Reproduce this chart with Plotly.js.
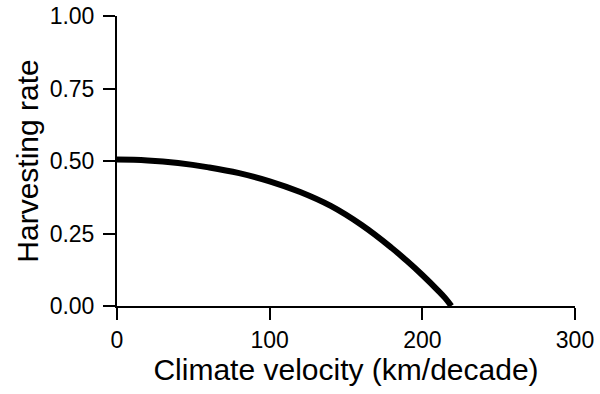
<!DOCTYPE html>
<html>
<head>
<meta charset="utf-8">
<script src="https://cdn.plot.ly/plotly-3.0.1.min.js"></script>
<style>html,body{margin:0;padding:0;background:#fff;}#chart{width:600px;height:394px;}</style>
</head>
<body>
<div id="chart"></div>
<script>
const velocity = [0, 20, 40, 60, 80, 100, 120, 140, 160, 180, 190, 200, 210, 215, 219];
const harvestRate = [0.505, 0.502, 0.493, 0.478, 0.458, 0.430, 0.393, 0.345, 0.280, 0.200, 0.155, 0.107, 0.055, 0.027, 0.0];
const xTicks = [0, 100, 200, 300];
const yTicks = [0, 0.25, 0.5, 0.75, 1.0];
const yTickText = ["0.00", "0.25", "0.50", "0.75", "1.00"];

const trace = {
  x: velocity,
  y: harvestRate,
  mode: 'lines',
  line: {color: '#000', width: 6, shape: 'spline', smoothing: 1.2},
  hoverinfo: 'skip'
};
const font = {family: 'Liberation Sans, Arial, Helvetica, sans-serif', color: '#000'};
const layout = {
  width: 600, height: 394,
  margin: {l: 117, r: 25, t: 16, b: 88},
  paper_bgcolor: '#fff', plot_bgcolor: '#fff',
  showlegend: false,
  font: font,
  xaxis: {
    range: [0, 300], tickvals: xTicks, ticktext: xTicks.map(String),
    showgrid: false, zeroline: false, showline: true, linecolor: '#000', linewidth: 2,
    ticks: 'outside', ticklen: 12, tickwidth: 2, tickcolor: '#000',
    tickfont: {size: 23, family: font.family, color: '#000'},
    title: {text: 'Climate velocity (km/decade)', font: {size: 30, family: font.family, color: '#000'}, standoff: 4},
    automargin: false
  },
  yaxis: {
    range: [0, 1], tickvals: yTicks, ticktext: yTickText,
    showgrid: false, zeroline: false, showline: true, linecolor: '#000', linewidth: 2,
    ticks: 'outside', ticklen: 12, tickwidth: 2, tickcolor: '#000',
    tickfont: {size: 23, family: font.family, color: '#000'},
    ticklabelstandoff: 4,
    title: {text: 'Harvesting rate', font: {size: 30, family: font.family, color: '#000'}, standoff: 2},
    automargin: false
  }
};
Plotly.newPlot('chart', [trace], layout, {staticPlot: true, displayModeBar: false});
</script>
</body>
</html>
